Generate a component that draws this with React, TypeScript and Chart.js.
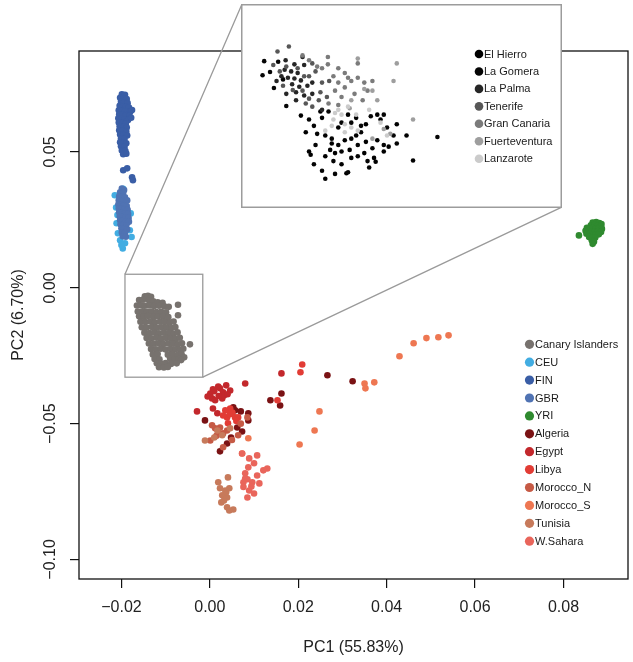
import React, { useEffect, useRef } from "react";
import { Chart, registerables } from "chart.js";

Chart.register(...registerables);

type P = [number, number];

// ---------- axes ----------
const X_TICKS = [-0.02, 0, 0.02, 0.04, 0.06, 0.08];
const Y_TICKS = [-0.1, -0.05, 0, 0.05];
const X_RANGE: P = [-0.0296, 0.0946];
const Y_RANGE: P = [-0.1072, 0.0872];
const X_TITLE = "PC1 (55.83%)";
const Y_TITLE = "PC2 (6.70%)";

// ---------- main populations ----------
const POPULATIONS = [
  "Canary Islanders", "CEU", "FIN", "GBR", "YRI", "Algeria", "Egypt", "Libya",
  "Morocco_N", "Morocco_S", "Tunisia", "W.Sahara",
];
const POP_COLORS = [
  "#77726e", "#42ade2", "#3a5ea6", "#5073b3", "#2f8a2f", "#7a1214", "#c3282c",
  "#e23c35", "#c65a45", "#ee7752", "#c77a5b", "#e9655b",
];

const canaryIslanders: P[] = [
  [-0.0147, -0.0031], [-0.014, -0.0029], [-0.0133, -0.0033],
  [-0.016, -0.0045], [-0.0151, -0.0044], [-0.0138, -0.0046], [-0.0128, -0.005], [-0.0118, -0.0053], [-0.0107, -0.0055],
  [-0.0165, -0.0065], [-0.0156, -0.0064], [-0.0147, -0.0066], [-0.0137, -0.0065], [-0.0126, -0.0067], [-0.0115, -0.0066], [-0.0103, -0.0068], [-0.0093, -0.007], [-0.0072, -0.0062],
  [-0.0163, -0.0087], [-0.0152, -0.0086], [-0.0142, -0.0088], [-0.0132, -0.0087], [-0.0121, -0.0089], [-0.011, -0.0088], [-0.0099, -0.009],
  [-0.016, -0.0105], [-0.015, -0.0106], [-0.014, -0.0104], [-0.0128, -0.0107], [-0.0117, -0.0105], [-0.0106, -0.0106], [-0.0094, -0.0108], [-0.0072, -0.0101],
  [-0.0157, -0.0125], [-0.0146, -0.0126], [-0.0135, -0.0124], [-0.0124, -0.0127], [-0.0113, -0.0125], [-0.0102, -0.0126], [-0.0091, -0.0128], [-0.0082, -0.0124],
  [-0.0154, -0.0145], [-0.0143, -0.0146], [-0.0131, -0.0144], [-0.012, -0.0147], [-0.0109, -0.0145], [-0.0098, -0.0146], [-0.0087, -0.0148], [-0.0078, -0.0144],
  [-0.0148, -0.0165], [-0.0137, -0.0166], [-0.0126, -0.0164], [-0.0115, -0.0167], [-0.0104, -0.0165], [-0.0093, -0.0166], [-0.0082, -0.0168], [-0.0073, -0.0164],
  [-0.0143, -0.0185], [-0.0132, -0.0186], [-0.0121, -0.0184], [-0.011, -0.0187], [-0.0099, -0.0185], [-0.0088, -0.0186], [-0.0077, -0.0188], [-0.0068, -0.0184],
  [-0.0138, -0.0205], [-0.0127, -0.0206], [-0.0116, -0.0204], [-0.0105, -0.0207], [-0.0094, -0.0205], [-0.0083, -0.0206], [-0.0072, -0.0208], [-0.0063, -0.0204], [-0.0045, -0.0208],
  [-0.0133, -0.0225], [-0.0122, -0.0226], [-0.0111, -0.0224], [-0.01, -0.0227], [-0.0089, -0.0225], [-0.0078, -0.0226], [-0.0067, -0.0228], [-0.006, -0.0224],
  [-0.0129, -0.0245], [-0.0118, -0.0244], [-0.0095, -0.0246], [-0.0084, -0.0245], [-0.0073, -0.0247], [-0.0064, -0.0244], [-0.0058, -0.0256],
  [-0.0125, -0.0262], [-0.0114, -0.0263], [-0.009, -0.0261], [-0.008, -0.0264], [-0.007, -0.0262], [-0.0065, -0.0266],
  [-0.012, -0.0278], [-0.011, -0.0279], [-0.01, -0.0277], [-0.0088, -0.028], [-0.0075, -0.0278],
  [-0.0115, -0.0292], [-0.0104, -0.0293], [-0.0095, -0.0291],
];

const ceu: P[] = [
  [-0.0196, 0.0365], [-0.0215, 0.0341], [-0.0212, 0.0296], [-0.0203, 0.0175], [-0.0197, 0.0145],
  [-0.0181, 0.0212], [-0.0185, 0.0256], [-0.0177, 0.0187], [-0.0211, 0.0238], [-0.0208, 0.0201],
  [-0.0192, 0.0164], [-0.0179, 0.0274], [-0.0203, 0.0322], [-0.0209, 0.0268], [-0.02, 0.0158],
];

const fin: P[] = [
  [-0.0199, 0.0713], [-0.0192, 0.0711], [-0.0203, 0.07], [-0.0195, 0.0698], [-0.0188, 0.0695],
  [-0.0201, 0.0685], [-0.0194, 0.0683], [-0.0186, 0.068],
  [-0.0204, 0.067], [-0.0197, 0.0668], [-0.019, 0.0666], [-0.0183, 0.0664],
  [-0.0206, 0.0654], [-0.0199, 0.0652], [-0.0192, 0.065], [-0.018, 0.0648], [-0.0176, 0.0655],
  [-0.0205, 0.0639], [-0.0198, 0.0637], [-0.019, 0.0635], [-0.0182, 0.0633],
  [-0.0207, 0.0624], [-0.02, 0.0622], [-0.0193, 0.062], [-0.0185, 0.0618], [-0.0178, 0.0626],
  [-0.0206, 0.0609], [-0.0198, 0.0607], [-0.019, 0.0605],
  [-0.0204, 0.0595], [-0.0196, 0.0593], [-0.0188, 0.059],
  [-0.0205, 0.058], [-0.0197, 0.0578], [-0.0189, 0.0575],
  [-0.0203, 0.0565], [-0.0195, 0.0563], [-0.0187, 0.0561],
  [-0.0201, 0.055], [-0.0193, 0.0548],
  [-0.0203, 0.0536], [-0.0196, 0.0534], [-0.0189, 0.0532],
  [-0.0201, 0.0521], [-0.0193, 0.0519],
  [-0.0199, 0.0506], [-0.0191, 0.0504],
  [-0.0196, 0.0492], [-0.0189, 0.0494],
  [-0.0196, 0.0433], [-0.0187, 0.044], [-0.0176, 0.0407], [-0.0174, 0.0396],
];

const gbr: P[] = [
  [-0.0199, 0.0366], [-0.0194, 0.036], [-0.0203, 0.0352], [-0.0196, 0.035],
  [-0.0205, 0.0337], [-0.0199, 0.0335], [-0.0192, 0.0333],
  [-0.0206, 0.0322], [-0.02, 0.032], [-0.0193, 0.0318], [-0.0187, 0.0322],
  [-0.0207, 0.0307], [-0.0201, 0.0305], [-0.0195, 0.0303], [-0.0188, 0.0301],
  [-0.0206, 0.0293], [-0.02, 0.0291], [-0.0193, 0.0289], [-0.0186, 0.0287],
  [-0.0205, 0.0278], [-0.0199, 0.0276], [-0.0192, 0.0274], [-0.0185, 0.0272],
  [-0.0204, 0.0263], [-0.0198, 0.0261], [-0.0191, 0.0259], [-0.0184, 0.0257],
  [-0.0203, 0.0249], [-0.0197, 0.0247], [-0.019, 0.0245], [-0.0183, 0.0243],
  [-0.0202, 0.0234], [-0.0196, 0.0232], [-0.0189, 0.023],
  [-0.02, 0.0219], [-0.0194, 0.0217], [-0.0187, 0.0215],
  [-0.0199, 0.0204], [-0.0192, 0.0202],
  [-0.0197, 0.019], [-0.019, 0.0188],
];

const yri: P[] = [
  [0.0866, 0.024], [0.0874, 0.0242], [0.0881, 0.0239], [0.0886, 0.0235],
  [0.0862, 0.023], [0.087, 0.0231], [0.0878, 0.0229], [0.0885, 0.0227],
  [0.0853, 0.0221], [0.0859, 0.0219], [0.0866, 0.022], [0.0873, 0.0218], [0.088, 0.0219], [0.0887, 0.0217],
  [0.085, 0.021], [0.0857, 0.0209], [0.0864, 0.0208], [0.0871, 0.0207], [0.0878, 0.0208], [0.0885, 0.0206],
  [0.0852, 0.0199], [0.0859, 0.0198], [0.0866, 0.0197], [0.0873, 0.0196], [0.088, 0.0197],
  [0.0858, 0.0187], [0.0865, 0.0186], [0.0872, 0.0185],
  [0.0864, 0.0175], [0.0869, 0.017], [0.0866, 0.0162],
  [0.0835, 0.0193],
];

const algeria: P[] = [
  [0.0266, -0.0322], [0.0323, -0.0344], [0.0162, -0.0389], [0.0137, -0.0414], [0.0159, -0.0433],
  [-0.0011, -0.0488], [0.0023, -0.0602], [0.0039, -0.0573], [0.0048, -0.0551], [0.0062, -0.0514],
  [0.0073, -0.0529], [0.0053, -0.044], [0.0087, -0.0462], [0.0087, -0.0488], [0.0057, -0.0451],
  [0.007, -0.0455],
];

const egypt: P[] = [
  [0.0162, -0.0315], [0.008, -0.0352], [0.0007, -0.0374], [0.0023, -0.037], [0.003, -0.0385],
  [0.0046, -0.0378], [0.0005, -0.0407], [0.0012, -0.0414], [0.0028, -0.0407], [0.0007, -0.0444],
  [-0.0029, -0.0455], [0.0017, -0.0462], [0.0019, -0.0363], [0.0037, -0.0359], [0.0032, -0.0396],
  [0.0001, -0.0389], [0.001, -0.0381], [0.004, -0.0392], [0.002, -0.0398], [-0.0005, -0.04],
];

const libya: P[] = [
  [0.0209, -0.0282], [0.0205, -0.0311], [0.0153, -0.0414], [0.0046, -0.0444], [0.0039, -0.0477],
  [0.0057, -0.0477], [0.0064, -0.0477], [0.0041, -0.0499], [0.0051, -0.0459], [0.0035, -0.0451],
  [0.0045, -0.0465], [0.006, -0.049], [0.003, -0.047],
];

const moroccoN: P[] = [
  [0.0023, -0.0514], [0.0012, -0.0517], [0.0039, -0.0525], [0.003, -0.0536], [0.0085, -0.0477],
  [0.0064, -0.0543], [0.0001, -0.0562], [0.003, -0.0587], [0.0019, -0.0532], [0.0005, -0.0506],
  [0.005, -0.056], [0.0015, -0.0545], [0.007, -0.05],
];

const moroccoS: P[] = [
  [0.054, -0.0175], [0.0517, -0.0182], [0.049, -0.0185], [0.0461, -0.0204], [0.0429, -0.0252],
  [0.0372, -0.0348], [0.035, -0.0352], [0.0352, -0.037], [0.0248, -0.0455], [0.0237, -0.0525],
  [0.0203, -0.0577], [0.0087, -0.0554], [0.0073, -0.061],
];

const tunisia: P[] = [
  [0.0019, -0.0716], [0.0041, -0.0698], [0.0023, -0.0738], [0.0035, -0.0746], [0.0044, -0.0738],
  [0.0028, -0.0764], [0.0039, -0.0772], [0.0026, -0.079], [0.0039, -0.0808], [0.0053, -0.0816],
  [0.0044, -0.082], [0.0032, -0.0783], [0.0037, -0.0753],
  [0.0017, -0.0525], [0.0028, -0.0543], [0.001, -0.0551], [0.0046, -0.0517], [-0.0011, -0.0562],
];

const wSahara: P[] = [
  [0.0073, -0.061], [0.0107, -0.0617], [0.0089, -0.0628], [0.01, -0.0646], [0.0087, -0.0661],
  [0.013, -0.0665], [0.0121, -0.0672], [0.008, -0.0683], [0.0107, -0.0691], [0.0085, -0.0705],
  [0.0076, -0.0716], [0.0096, -0.0716], [0.0112, -0.072], [0.0076, -0.0733], [0.0089, -0.0746],
  [0.01, -0.0757], [0.0085, -0.0772], [0.0094, -0.0731], [0.008, -0.0702],
];

const POP_POINTS: P[][] = [
  canaryIslanders, ceu, fin, gbr, yri, algeria, egypt, libya, moroccoN, moroccoS, tunisia, wSahara,
];

// zoom box around the Canary cluster (data units)
const ZOOM_BOX_X: P = [-0.0192, -0.0016];
const ZOOM_BOX_Y: P = [-0.0329, 0.005];

// ---------- inset (Canary-only, arbitrary units) ----------
const ISLANDS = ["El Hierro", "La Gomera", "La Palma", "Tenerife", "Gran Canaria", "Fuerteventura", "Lanzarote"];
const ISLAND_COLORS = ["#000000", "#050505", "#262626", "#575757", "#7b7b7b", "#9e9e9e", "#cbcbcb"];
const INSET_X_RANGE: P = [0.3, 96.6];
const INSET_Y_RANGE: P = [-0.4, 60.8];

const elHierro: P[] = [
  [17.5, 27.2], [23.5, 28.5], [24.0, 26.5], [19.0, 22.0], [25.0, 21.0], [29.0, 23.5], [32.0, 27.5], [34.5, 26.5],
  [37.5, 24.5], [41.0, 27.5], [42.0, 26.0], [47.0, 24.5], [34.5, 21.0], [31.0, 19.5], [27.0, 18.5], [28.0, 15.5],
  [32.5, 16.5], [37.5, 19.0], [41.0, 19.5], [44.5, 17.5], [50.0, 21.0], [52.0, 13.2], [40.0, 14.0], [30.0, 12.0],
  [25.0, 14.5], [20.5, 15.0], [25.0, 7.5], [31.5, 9.2], [40.5, 12.8], [37.0, 15.5], [20.0, 16.0], [43.0, 16.0],
];
const laGomera: P[] = [
  [20.0, 26.0], [26.0, 28.5], [21.5, 24.0], [22.5, 21.5], [27.0, 20.0], [30.0, 25.0], [33.0, 25.0], [36.0, 24.0],
  [39.0, 27.0], [43.0, 27.5], [44.0, 23.5], [36.0, 22.0], [33.0, 20.0], [29.0, 18.0], [30.0, 16.0], [26.5, 16.5],
  [35.0, 18.0], [39.5, 17.0], [43.0, 18.0], [47.0, 18.5], [59.5, 20.5], [38.0, 13.0], [32.0, 9.5], [27.5, 13.0],
  [21.5, 12.0], [22.0, 18.0], [28.0, 9.0], [38.5, 11.0], [35.0, 14.5], [33.0, 14.0], [24.0, 10.0], [46.0, 21.0],
  [6.2, 44.2], [5.7, 39.8], [8.0, 40.8], [9.2, 35.8], [13.0, 30.2], [10.5, 44.0], [12.0, 38.5],
];
const laPalma: P[] = [
  [12.8, 44.5], [15.5, 43.2], [18.5, 43.0], [12.5, 41.5], [14.5, 41.0], [16.5, 40.5], [11.5, 39.5], [13.5, 39.0],
  [15.5, 38.8], [17.5, 38.2], [14.8, 37.0], [17.0, 36.2], [19.5, 36.5], [13.0, 34.0], [16.0, 34.5], [18.5, 33.5],
  [21.0, 34.0], [16.0, 32.0], [24.0, 29.0], [18.0, 45.5], [10.0, 38.0], [21.0, 37.5],
];
const tenerife: P[] = [
  [10.3, 47.2], [13.8, 48.8], [21.0, 43.5], [20.0, 39.5], [22.0, 41.0], [24.0, 37.5], [26.2, 38.0], [12.0, 36.5],
  [23.5, 34.5], [25.5, 33.0], [19.0, 31.0], [21.0, 30.0], [23.0, 32.0], [13.0, 42.5], [16.5, 42.0], [15.0, 35.2],
  [18.0, 35.0], [20.0, 32.5], [9.0, 43.0], [11.0, 41.0], [18.5, 39.5],
];
const granCanaria: P[] = [
  [18.0, 46.0], [25.8, 45.5], [24.0, 42.0], [25.8, 43.2], [29.0, 42.0], [31.0, 40.5], [33.0, 38.0], [29.0, 37.5],
  [32.0, 39.0], [35.0, 39.0], [37.0, 37.5], [39.5, 38.0], [38.0, 35.0], [34.0, 34.0], [30.0, 33.0], [36.5, 32.0],
  [28.0, 35.0], [26.0, 31.0], [35.0, 43.5], [27.5, 39.5], [22.5, 42.5], [31.0, 36.0], [20.0, 44.5], [29.0, 30.5],
];
const fuerteventura: P[] = [
  [47.0, 43.5], [46.0, 38.0], [52.0, 26.0], [39.5, 20.0], [45.0, 21.5], [43.0, 23.0], [37.0, 35.5], [39.5, 35.0],
  [33.0, 32.0], [35.0, 45.0], [41.0, 32.0], [32.5, 29.5],
];
const lanzarote: P[] = [
  [27.5, 26.0], [30.0, 27.5], [25.0, 22.5], [31.0, 22.0], [33.0, 23.5], [29.0, 29.0], [32.0, 30.0], [34.5, 27.5],
  [38.5, 29.0], [42.0, 25.0], [28.0, 28.0], [27.0, 24.0], [31.0, 24.5], [44.0, 21.0], [35.0, 22.5],
];
const ISLAND_POINTS: P[][] = [elHierro, laGomera, laPalma, tenerife, granCanaria, fuerteventura, lanzarote];

// ---------- layout (pixels) ----------
const W = 633;
const H = 662;
const FONT = "'Liberation Sans', Arial, Helvetica, sans-serif";
const INSET = { left: 241, top: 4, width: 321, height: 204 };

const fmt = (v: number) => {
  const s = Math.abs(v).toFixed(2);
  return v < -1e-9 ? "\u2212" + s : s;
};

export default function App() {
  const mainRef = useRef<HTMLCanvasElement | null>(null);
  const insetRef = useRef<HTMLCanvasElement | null>(null);

  useEffect(() => {
    if (!mainRef.current || !insetRef.current) return;

    const mainPlugin = {
      id: "rstyle",
      afterDatasetsDraw(chart: any) {
        const { ctx, chartArea: a, scales } = chart;
        const xs = scales.x;
        const ys = scales.y;
        ctx.save();
        // frame
        ctx.strokeStyle = "#111";
        ctx.lineWidth = 1.3;
        ctx.strokeRect(a.left, a.top, a.right - a.left, a.bottom - a.top);
        // zoom box
        const bx0 = xs.getPixelForValue(ZOOM_BOX_X[0]);
        const bx1 = xs.getPixelForValue(ZOOM_BOX_X[1]);
        const by0 = ys.getPixelForValue(ZOOM_BOX_Y[1]);
        const by1 = ys.getPixelForValue(ZOOM_BOX_Y[0]);
        ctx.strokeStyle = "#9a9a9a";
        ctx.lineWidth = 1.3;
        ctx.strokeRect(bx0, by0, bx1 - bx0, by1 - by0);
        ctx.beginPath();
        ctx.moveTo(bx0, by0);
        ctx.lineTo(INSET.left + 0.7, INSET.top + 0.7);
        ctx.moveTo(bx1, by1);
        ctx.lineTo(INSET.left + INSET.width - 0.7, INSET.top + INSET.height - 0.7);
        ctx.stroke();
        // y tick labels (rotated like R)
        ctx.fillStyle = "#222";
        ctx.font = `16px ${FONT}`;
        ctx.textAlign = "center";
        ctx.textBaseline = "middle";
        Y_TICKS.forEach((v) => {
          const py = ys.getPixelForValue(v);
          ctx.save();
          ctx.translate(51, py);
          ctx.rotate(-Math.PI / 2);
          ctx.fillText(fmt(v), 0, 0);
          ctx.restore();
        });
        // legend
        ctx.font = `11px ${FONT}`;
        ctx.textAlign = "left";
        POPULATIONS.forEach((name, i) => {
          const y = 344.3 + i * 17.9;
          ctx.beginPath();
          ctx.fillStyle = POP_COLORS[i];
          ctx.arc(529.5, y, 4.6, 0, Math.PI * 2);
          ctx.fill();
          ctx.fillStyle = "#1a1a1a";
          ctx.fillText(name, 535, y + 0.5);
        });
        ctx.restore();
      },
    };

    const main = new Chart(mainRef.current, {
      type: "scatter",
      data: {
        datasets: POPULATIONS.map((name, i) => ({
          label: name,
          data: POP_POINTS[i].map(([x, y]) => ({ x, y })),
          backgroundColor: POP_COLORS[i],
          borderWidth: 0,
          pointRadius: 3.3,
          order: -i,
        })),
      },
      options: {
        responsive: false,
        animation: false,
        devicePixelRatio: 1,
        layout: { padding: { top: 51, right: 5, left: 0, bottom: 0 } },
        plugins: { legend: { display: false }, tooltip: { enabled: false } },
        scales: {
          x: {
            type: "linear",
            min: X_RANGE[0],
            max: X_RANGE[1],
            afterFit: (s: any) => { s.height = 83; },
            afterBuildTicks: (s: any) => { s.ticks = X_TICKS.map((value) => ({ value })); },
            grid: { display: true, drawOnChartArea: false, drawTicks: true, tickLength: 9, color: "#111", lineWidth: 1.2 },
            border: { display: false },
            ticks: {
              autoSkip: false, maxRotation: 0, minRotation: 0, padding: 10,
              color: "#222", font: { family: FONT, size: 16 },
              callback: (v: any) => fmt(Number(v)),
            },
            title: { display: true, text: X_TITLE, color: "#222", font: { family: FONT, size: 16 }, padding: { top: 0, bottom: 4.5 } },
          },
          y: {
            type: "linear",
            min: Y_RANGE[0],
            max: Y_RANGE[1],
            afterFit: (s: any) => { s.width = 79; },
            afterBuildTicks: (s: any) => { s.ticks = Y_TICKS.map((value) => ({ value })); },
            grid: { display: true, drawOnChartArea: false, drawTicks: true, tickLength: 9, color: "#111", lineWidth: 1.2 },
            border: { display: false },
            ticks: { display: false },
            title: { display: true, text: Y_TITLE, color: "#222", font: { family: FONT, size: 16 }, padding: { top: 9, bottom: 0 } },
          },
        },
      },
      plugins: [mainPlugin],
    } as any);

    const insetPlugin = {
      id: "insetFrame",
      beforeDraw(chart: any) {
        const { ctx, width, height } = chart;
        ctx.save();
        ctx.fillStyle = "#fff";
        ctx.fillRect(0, 0, width, height);
        ctx.restore();
      },
      afterDraw(chart: any) {
        const { ctx, width, height } = chart;
        ctx.save();
        ctx.strokeStyle = "#9c9c9c";
        ctx.lineWidth = 1.5;
        ctx.strokeRect(0.75, 0.75, width - 1.5, height - 1.5);
        ctx.font = `11px ${FONT}`;
        ctx.textAlign = "left";
        ctx.textBaseline = "middle";
        ISLANDS.forEach((name, i) => {
          const y = 50 + i * 17.45;
          ctx.beginPath();
          ctx.fillStyle = ISLAND_COLORS[i];
          ctx.arc(238, y, 4.3, 0, Math.PI * 2);
          ctx.fill();
          ctx.fillStyle = "#1a1a1a";
          ctx.fillText(name, 243, y + 0.5);
        });
        ctx.restore();
      },
    };

    const inset = new Chart(insetRef.current, {
      type: "scatter",
      data: {
        datasets: ISLANDS.map((name, i) => ({
          label: name,
          data: ISLAND_POINTS[i].map(([x, y]) => ({ x, y })),
          backgroundColor: ISLAND_COLORS[i],
          borderWidth: 0,
          pointRadius: 2.3,
          order: -i,
        })),
      },
      options: {
        responsive: false,
        animation: false,
        devicePixelRatio: 1,
        layout: { padding: 0 },
        plugins: { legend: { display: false }, tooltip: { enabled: false } },
        scales: {
          x: { type: "linear", display: false, min: INSET_X_RANGE[0], max: INSET_X_RANGE[1] },
          y: { type: "linear", display: false, min: INSET_Y_RANGE[0], max: INSET_Y_RANGE[1] },
        },
      },
      plugins: [insetPlugin],
    } as any);

    return () => {
      main.destroy();
      inset.destroy();
    };
  }, []);

  return (
    <div style={{ position: "absolute", left: 0, top: 0, width: W, height: H, background: "#fff" }}>
      <canvas ref={mainRef} width={W} height={H} style={{ position: "absolute", left: 0, top: 0, display: "block" }} />
      <canvas
        ref={insetRef}
        width={INSET.width}
        height={INSET.height}
        style={{ position: "absolute", left: INSET.left, top: INSET.top, display: "block" }}
      />
    </div>
  );
}
